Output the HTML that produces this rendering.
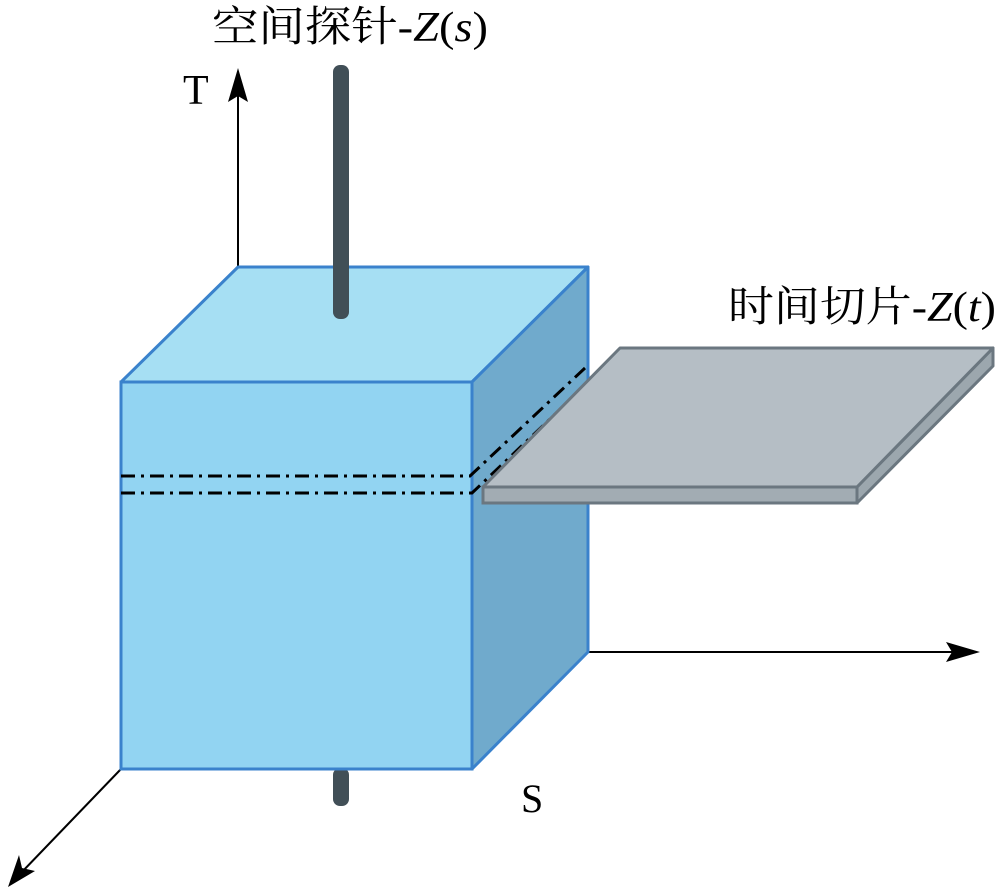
<!DOCTYPE html>
<html><head><meta charset="utf-8"><style>
body{margin:0;background:#fff;}
svg{display:block;}
text{font-family:"Liberation Serif","Noto Serif CJK SC",serif;fill:#000;}
</style></head><body>
<svg width="1000" height="895" viewBox="0 0 1000 895" xmlns="http://www.w3.org/2000/svg">
<!-- axes -->
<line x1="238" y1="267" x2="238" y2="90" stroke="#000" stroke-width="2"/>
<path d="M238,68 L228,102 L238,96 L248,102 Z" fill="#000"/>
<line x1="588" y1="652" x2="965" y2="652" stroke="#000" stroke-width="2"/>
<path d="M980,652 L946,642 L952,652 L946,662 Z" fill="#000"/>
<line x1="121" y1="769" x2="20" y2="874" stroke="#000" stroke-width="2"/>
<path d="M8,887 L19,855 L22,868 L35,871 Z" fill="#000"/>
<!-- probe bottom -->
<rect x="333" y="768" width="16" height="38" rx="7" fill="#414f57"/>
<!-- cube -->
<polygon points="121,382 238,267 588,267 472,382" fill="#a6dff3" stroke="#3a82cc" stroke-width="3" stroke-linejoin="round"/>
<polygon points="472,382 588,267 588,652 472,769" fill="#70aacc" stroke="#3a82cc" stroke-width="3" stroke-linejoin="round"/>
<rect x="121" y="382" width="351" height="387" fill="#92d4f2" stroke="#3a82cc" stroke-width="3"/>
<!-- probe top -->
<rect x="333" y="65" width="16" height="254" rx="7" fill="#414f57"/>
<!-- dashed -->
<polyline points="121,476 470,476 585,368" fill="none" stroke="#000" stroke-width="3" stroke-dasharray="14,6,3,6"/>
<polyline points="121,493 472,493 588,383" fill="none" stroke="#000" stroke-width="3" stroke-dasharray="14,6,3,6"/>
<!-- slice -->
<polygon points="857,487 993,348 993,366 857,503" fill="#9ca7ae" stroke="#6b7780" stroke-width="3" stroke-linejoin="round"/>
<rect x="483" y="487" width="374" height="16" fill="#a2acb3" stroke="#6b7780" stroke-width="3"/>
<polygon points="483,487 620,348 993,348 857,487" fill="#b5bec5" stroke="#6b7780" stroke-width="3" stroke-linejoin="round"/>
<!-- labels -->
<text x="212" y="41" font-size="42" textLength="276" lengthAdjust="spacingAndGlyphs">空间探针-<tspan font-style="italic">Z</tspan>(<tspan font-style="italic">s</tspan>)</text>
<text x="183" y="104" font-size="42">T</text>
<text x="728" y="321" font-size="42" textLength="268" lengthAdjust="spacingAndGlyphs">时间切片-<tspan font-style="italic">Z</tspan>(<tspan font-style="italic">t</tspan>)</text>
<text x="521" y="812" font-size="40">S</text>
</svg>
</body></html>
